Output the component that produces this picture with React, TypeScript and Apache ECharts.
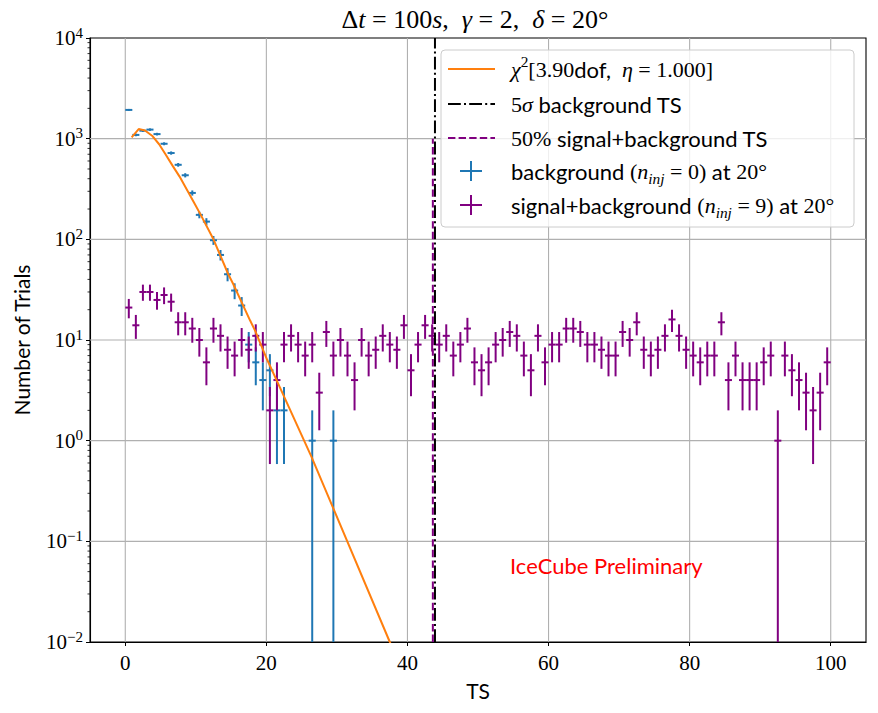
import React, { useEffect, useRef } from "react";
import * as echarts from "echarts";

// ---------- data ----------
const binCenters = [
  0.5, 1.5, 2.5, 3.5, 4.5, 5.5, 6.5, 7.5, 8.5, 9.5,
  10.5, 11.5, 12.5, 13.5, 14.5, 15.5, 16.5, 17.5, 18.5, 19.5,
  20.5, 21.5, 22.5, 23.5, 24.5, 25.5, 26.5, 27.5, 28.5, 29.5,
  30.5, 31.5, 32.5, 33.5, 34.5, 35.5, 36.5, 37.5, 38.5, 39.5,
  40.5, 41.5, 42.5, 43.5, 44.5, 45.5, 46.5, 47.5, 48.5, 49.5,
  50.5, 51.5, 52.5, 53.5, 54.5, 55.5, 56.5, 57.5, 58.5, 59.5,
  60.5, 61.5, 62.5, 63.5, 64.5, 65.5, 66.5, 67.5, 68.5, 69.5,
  70.5, 71.5, 72.5, 73.5, 74.5, 75.5, 76.5, 77.5, 78.5, 79.5,
  80.5, 81.5, 82.5, 83.5, 84.5, 85.5, 86.5, 87.5, 88.5, 89.5,
  90.5, 91.5, 92.5, 93.5, 94.5, 95.5, 96.5, 97.5, 98.5, 99.5,
];
const signalCounts = [
  21, 14, 30, 30, 25, 28, 24, 15, 15, 13,
  10, 6, 13, 11, 8, 7, 10, 8, 11, 9,
  2, 4, 9, 11, 9, 7, 9, 3, 12, 7,
  10, 7, 4, 10, 7, 8, 11, 9, 8, 14,
  5, 9, 14, 11, 9, 11, 7, 9, 13, 6,
  5, 6, 9, 10, 12, 11, 7, 5, 11, 6,
  9, 9, 13, 13, 12, 9, 9, 8, 7, 7,
  12, 10, 15, 8, 7, 8, 11, 16, 11, 8,
  7, 6, 7, 7, 15, 4, 7, 4, 4, 4,
  6, 7, 1, 7, 5, 4, 3, 2, 3, 6,
];
const bgBinCenters = [
  0.5, 1.5, 2.5, 3.5, 4.5, 5.5, 6.5, 7.5, 8.5, 9.5,
  10.5, 11.5, 12.5, 13.5, 14.5, 15.5, 16.5, 17.5, 18.5, 19.5,
  20.5, 21.5, 22.5, 26.5, 29.5,
];
const bgCounts = [
  1930, 1090, 1200, 1230, 1110, 890, 720, 550, 433, 289,
  175, 150, 98, 70, 45, 31, 22, 9, 6, 4,
  5, 2, 2, 1, 1,
];
const fitTS = [
  0.9, 1.9, 2.8, 3.8, 4.8, 5.7, 6.7, 7.7, 8.7, 9.7,
  10.7, 12.5, 14.6, 15.3, 17.7, 18.4, 20.1, 21.9, 26.4, 29.4,
  37.5, 38.5,
];
const fitTrials = [
  1030, 1245, 1205, 1070, 880, 700, 540, 420, 315, 235,
  175, 100, 45, 36, 15.6, 12.4, 6.4, 3.4, 0.69, 0.22,
  0.01, 0.0068,
];
const fiveSigmaTS = 43.9;
const medianSignalTS = 43.6;
const binHalfWidth = 0.5;
const xTicks = [0, 20, 40, 60, 80, 100];
const yTicks = [0.01, 0.1, 1, 10, 100, 1000, 10000];

// ---------- styles ----------
const SERIF = '"Liberation Serif", "DejaVu Serif", serif';
const SANS = 'Lato, "Liberation Sans", sans-serif';
const BLUE = "#1f77b4";
const ORANGE = "#ff7f0e";
const PURPLE = "#800080";

function richSet(size: number) {
  return {
    r: { fontFamily: SERIF, fontSize: size, color: "#000", lineHeight: size * 1.35 },
    i: { fontFamily: SERIF, fontStyle: "italic", fontSize: size, color: "#000", lineHeight: size * 1.35 },
    s: { fontFamily: SANS, fontSize: size, color: "#000", lineHeight: size * 1.35 },
    sup: { fontFamily: SERIF, fontSize: size * 0.7, color: "#000", lineHeight: size * 0.7, verticalAlign: "top" },
    sub: { fontFamily: SERIF, fontStyle: "italic", fontSize: size * 0.7, color: "#000", lineHeight: size * 0.7, verticalAlign: "bottom" },
  };
}

function errorBarSeries(name: string, xs: number[], ns: number[], color: string, z: number) {
  return {
    name,
    type: "custom",
    z,
    clip: true,
    silent: true,
    data: xs.map((x, i) => [x, ns[i]]),
    encode: { x: 0, y: 1 },
    renderItem: (params: any, api: any) => {
      const x = api.value(0);
      const n = api.value(1);
      const e = Math.sqrt(n);
      const cs = params.coordSys;
      const top = api.coord([x, n + e]);
      const lo = n - e;
      const bot = lo > 0 ? api.coord([x, lo]) : [top[0], cs.y + cs.height];
      const l = api.coord([x - binHalfWidth, n]);
      const r = api.coord([x + binHalfWidth, n]);
      return {
        type: "group",
        children: [
          { type: "line", shape: { x1: top[0], y1: top[1], x2: bot[0], y2: bot[1] }, style: { stroke: color, lineWidth: 2 } },
          { type: "line", shape: { x1: l[0], y1: l[1], x2: r[0], y2: r[1] }, style: { stroke: color, lineWidth: 2 } },
        ],
      };
    },
  };
}

export default function App() {
  const ref = useRef<HTMLDivElement>(null);
  useEffect(() => {
    if (!ref.current) return;
    const chart = echarts.init(ref.current, undefined, { renderer: "svg" });

    const decor = {
      type: "custom",
      z: 1,
      silent: true,
      data: [[0, 1]],
      encode: { x: 0, y: 1 },
      renderItem: (params: any, api: any) => {
        const cs = params.coordSys;
        const children: any[] = [];
        xTicks.forEach((t) => {
          const p = api.coord([t, 1]);
          children.push({ type: "line", shape: { x1: p[0], y1: cs.y, x2: p[0], y2: cs.y + cs.height }, style: { stroke: "#b0b0b0", lineWidth: 1.1 } });
        });
        yTicks.slice(1, -1).forEach((t) => {
          const p = api.coord([0, t]);
          children.push({ type: "line", shape: { x1: cs.x, y1: p[1], x2: cs.x + cs.width, y2: p[1] }, style: { stroke: "#b0b0b0", lineWidth: 1.1 } });
        });
        for (let d = -2; d < 4; d++) {
          for (let m = 2; m <= 9; m++) {
            const p = api.coord([0, m * Math.pow(10, d)]);
            children.push({ type: "line", shape: { x1: cs.x - 2.5, y1: p[1], x2: cs.x, y2: p[1] }, style: { stroke: "#000", lineWidth: 0.8 } });
          }
        }
        return { type: "group", children };
      },
    };

    const legendX = 441;
    const legendY = 50;
    const rowY = [69, 104, 138, 171, 205];
    const textX = 511;
    const rich = richSet(22);
    const legendTexts = [
      "{i|χ}{sup|2}{r|[3.90}{s|dof,}{r|  }{i|η}{r| = 1.000]}",
      "{r|5}{i|σ}{s| background TS}",
      "{r|50%}{s| signal+background TS}",
      "{s|background }{r|(}{i|n}{sub|inj}{r| = 0)}{s| at }{r|20°}",
      "{s|signal+background }{r|(}{i|n}{sub|inj}{r| = 9)}{s| at }{r|20°}",
    ];

    const graphic: any[] = [
      {
        type: "text",
        x: 475,
        y: 19,
        z: 10,
        style: {
          text: "{r|Δ}{i|t}{r| = 100}{i|s}{r|,  }{i|γ}{r| = 2,  }{i|δ}{r| = 20°}",
          rich: richSet(26),
          align: "center",
          verticalAlign: "middle",
        },
      },
      {
        type: "text",
        x: 510,
        y: 565,
        z: 10,
        style: { text: "IceCube Preliminary", fill: "#ff0000", font: `22px ${SANS}`, verticalAlign: "middle" },
      },
      {
        type: "rect",
        z: 20,
        shape: { x: legendX, y: legendY, width: 413, height: 177, r: 4 },
        style: { fill: "rgba(255,255,255,0.8)", stroke: "#cccccc", lineWidth: 1 },
      },
      { type: "line", z: 21, shape: { x1: 448, y1: rowY[0], x2: 495, y2: rowY[0] }, style: { stroke: ORANGE, lineWidth: 2 } },
      { type: "line", z: 21, shape: { x1: 448, y1: rowY[1], x2: 495, y2: rowY[1] }, style: { stroke: "#000", lineWidth: 2, lineDash: [12.8, 3.2, 2, 3.2] } },
      { type: "line", z: 21, shape: { x1: 448, y1: rowY[2], x2: 495, y2: rowY[2] }, style: { stroke: PURPLE, lineWidth: 2, lineDash: [7.4, 3.2] } },
      { type: "line", z: 21, shape: { x1: 460, y1: rowY[3], x2: 482, y2: rowY[3] }, style: { stroke: BLUE, lineWidth: 2 } },
      { type: "line", z: 21, shape: { x1: 471, y1: rowY[3] - 10, x2: 471, y2: rowY[3] + 10 }, style: { stroke: BLUE, lineWidth: 2 } },
      { type: "line", z: 21, shape: { x1: 460, y1: rowY[4], x2: 482, y2: rowY[4] }, style: { stroke: PURPLE, lineWidth: 2 } },
      { type: "line", z: 21, shape: { x1: 471, y1: rowY[4] - 10, x2: 471, y2: rowY[4] + 10 }, style: { stroke: PURPLE, lineWidth: 2 } },
      ...legendTexts.map((t, i) => ({
        type: "text",
        z: 21,
        x: textX,
        y: rowY[i],
        style: { text: t, rich, verticalAlign: "middle", align: "left" },
      })),
    ];

    const option: any = {
      animation: false,
      backgroundColor: "#ffffff",
      grid: {
        left: 90,
        right: 12,
        top: 38,
        bottom: 71,
        show: true,
        borderColor: "#000",
        borderWidth: 1.1,
        backgroundColor: "transparent",
        outerBoundsMode: "none",
        containLabel: false,
      },
      xAxis: {
        type: "value",
        min: -5,
        max: 105,
        axisLine: { show: true, onZero: false, lineStyle: { color: "#000", width: 1.1 } },
        axisTick: { show: true, customValues: xTicks, length: 4, lineStyle: { color: "#000", width: 1 } },
        axisLabel: {
          customValues: xTicks,
          fontFamily: SERIF,
          fontSize: 21,
          color: "#000",
          margin: 10,
        },
        splitLine: { show: false },
        name: "TS",
        nameLocation: "middle",
        nameGap: 38,
        nameTextStyle: { fontFamily: SANS, fontSize: 21, color: "#000" },
      },
      yAxis: {
        type: "log",
        logBase: 10,
        min: 0.01,
        max: 10000,
        axisLine: { show: true, onZero: false, lineStyle: { color: "#000", width: 1.1 } },
        axisTick: { show: true, customValues: yTicks, length: 4, lineStyle: { color: "#000", width: 1 } },
        minorTick: { show: false },
        axisLabel: {
          customValues: yTicks,
          margin: 7,
          formatter: (v: number) => {
            const e = Math.round(Math.log10(v));
            return "{b|10}{s|" + String(e).replace("-", "−") + "}";
          },
          rich: {
            b: { fontFamily: SERIF, fontSize: 21, color: "#000", lineHeight: 26 },
            s: { fontFamily: SERIF, fontSize: 15, color: "#000", lineHeight: 15, verticalAlign: "top" },
          },
        },
        splitLine: { show: false },
        name: "Number of Trials",
        nameLocation: "middle",
        nameGap: 58,
        nameRotate: 90,
        nameTextStyle: { fontFamily: SANS, fontSize: 21, color: "#000" },
      },
      graphic,
      series: [
        decor,
        errorBarSeries("background", bgBinCenters, bgCounts, BLUE, 3),
        errorBarSeries("signal+background", binCenters, signalCounts, PURPLE, 4),
        {
          name: "chi2",
          type: "line",
          z: 5,
          data: fitTS.map((x, i) => [x, fitTrials[i]]),
          symbol: "none",
          clip: true,
          lineStyle: { color: ORANGE, width: 2 },
          silent: true,
        },
        {
          name: "5sigma",
          type: "line",
          z: 6,
          data: [[fiveSigmaTS, 0.01], [fiveSigmaTS, 10000]],
          symbol: "none",
          lineStyle: { color: "#000", width: 2, type: [12.8, 3.2, 2, 3.2] },
          silent: true,
        },
        {
          name: "50%",
          type: "line",
          z: 6,
          data: [[medianSignalTS, 0.01], [medianSignalTS, 1000]],
          symbol: "none",
          lineStyle: { color: PURPLE, width: 2, type: [7.4, 3.2] },
          silent: true,
        },
      ],
    };
    chart.setOption(option);
    return () => chart.dispose();
  }, []);
  return (
    <div
      ref={ref}
      style={{ position: "fixed", left: 0, top: 0, width: 878, height: 713, background: "#fff" }}
    />
  );
}
